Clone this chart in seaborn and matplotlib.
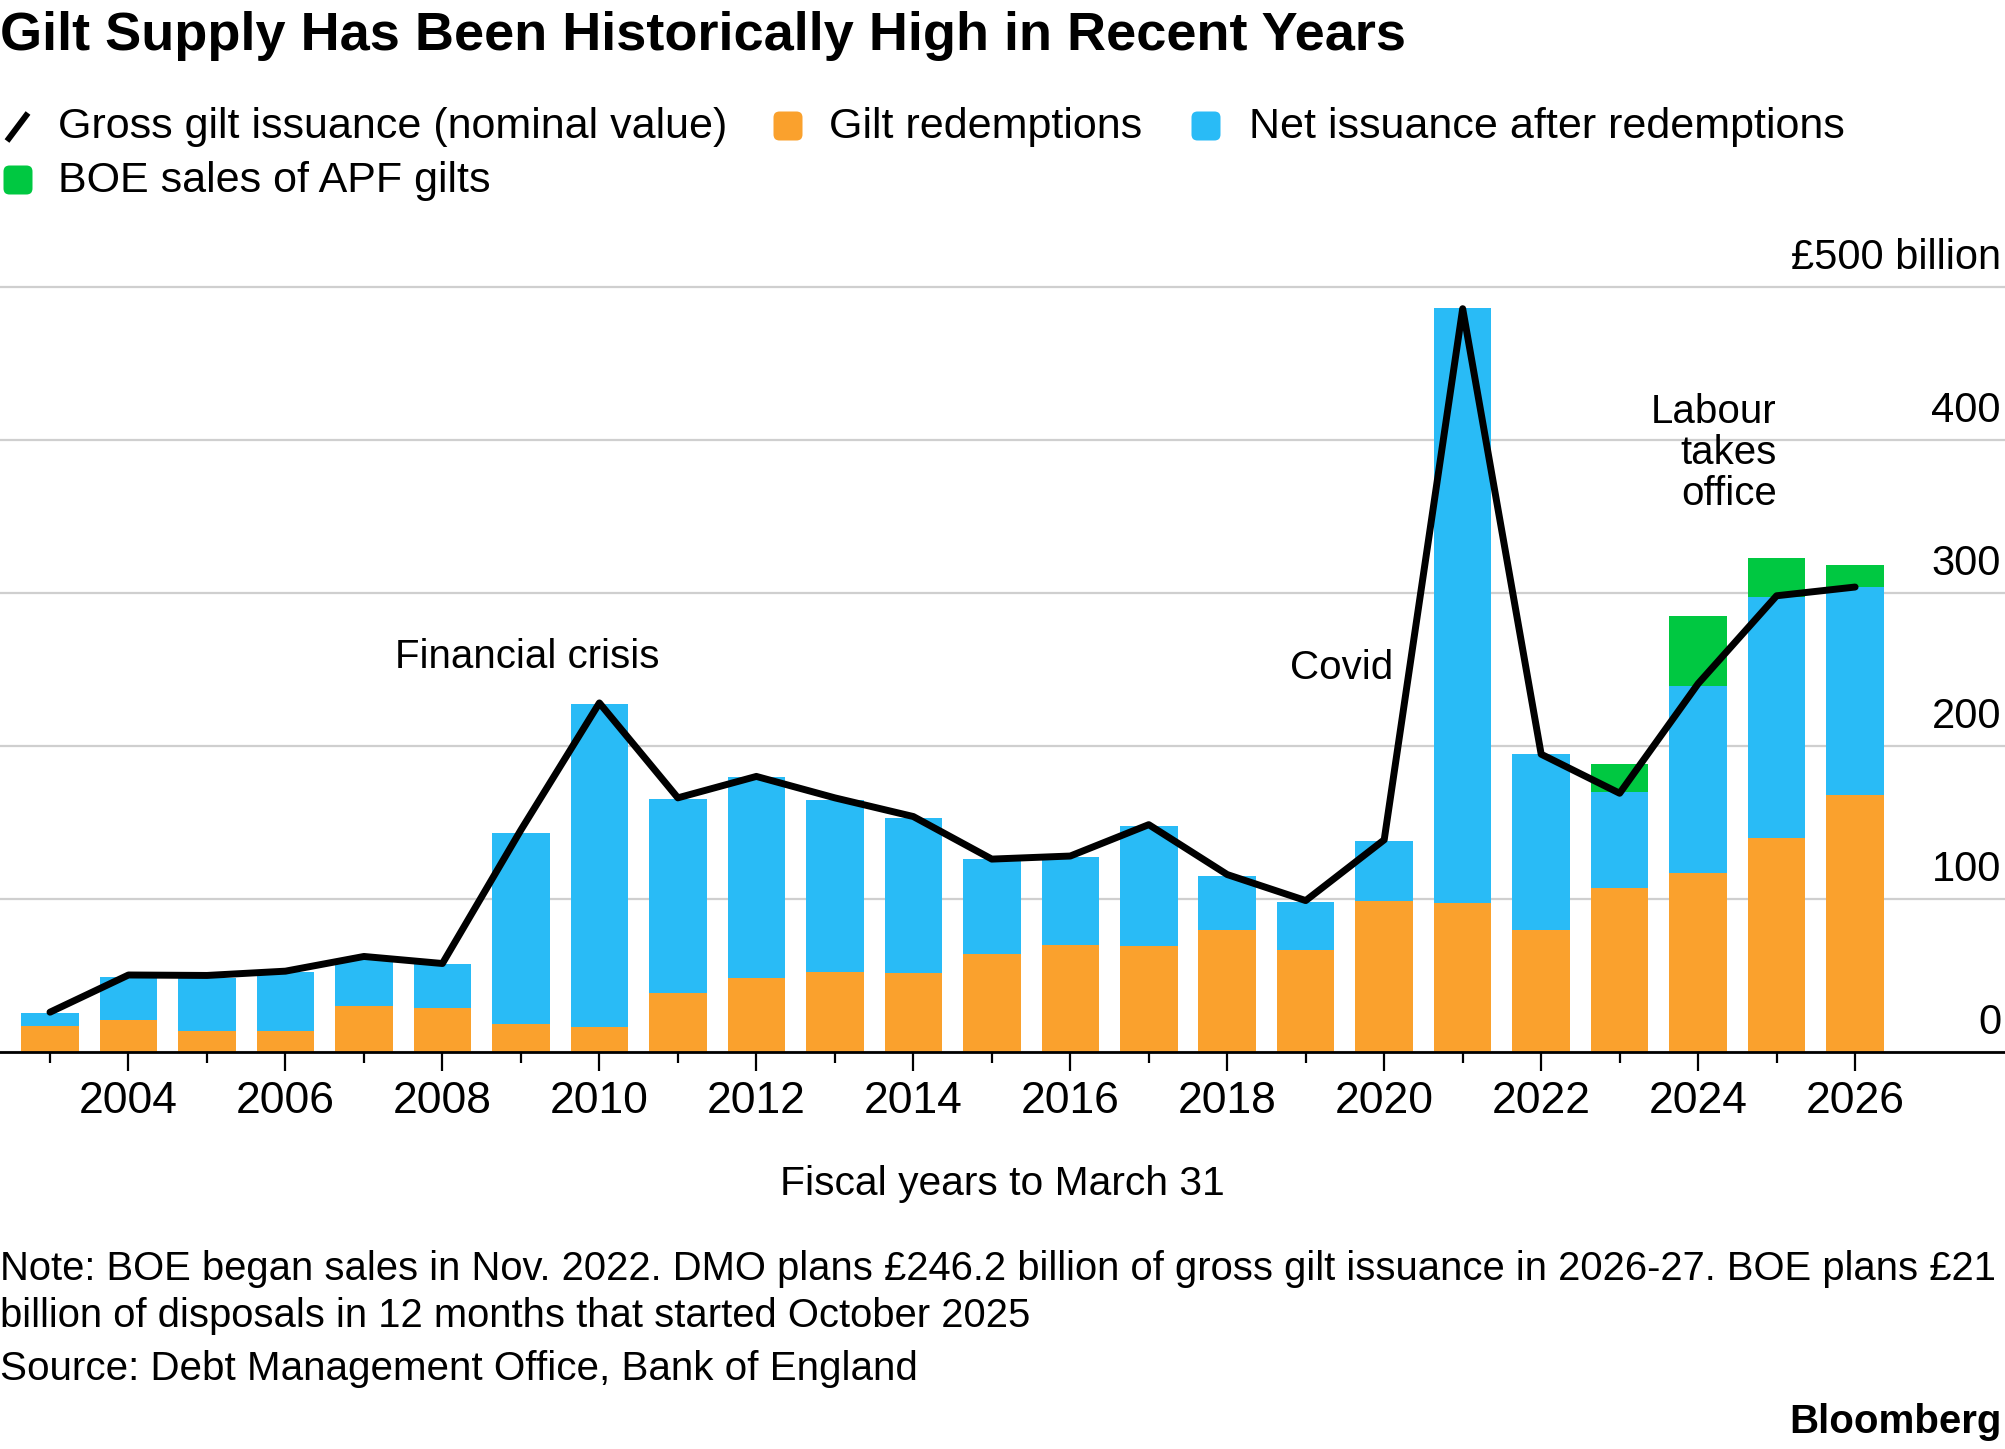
import numpy as np
import pandas as pd
import matplotlib
matplotlib.use("Agg")
import matplotlib.pyplot as plt
import seaborn as sns
from matplotlib import transforms
from matplotlib.patches import FancyBboxPatch
from matplotlib.lines import Line2D

# ---------------- data ----------------
years = list(range(2003, 2027))
redemptions = [16.7, 20.9, 13.8, 13.8, 29.8, 29.0, 18.0, 16.3, 38.3, 48.5, 52.4, 51.4,
               64.0, 70.2, 69.5, 79.4, 66.6, 98.9, 97.4, 79.4, 107.0, 116.6, 139.6, 168.0]
net_issuance = [8.8, 28.4, 34.4, 38.2, 30.2, 28.8, 125.0, 210.7, 127.2, 130.8, 112.0, 101.6,
                62.0, 57.0, 77.9, 35.4, 31.6, 38.9, 388.4, 115.1, 62.7, 122.2, 157.7, 135.7]
apf_sales = [0, 0, 0, 0, 0, 0, 0, 0, 0, 0, 0, 0,
             0, 0, 0, 0, 0, 0, 0, 0, 18.5, 46.1, 25.5, 14.2]
gross_issuance = [26.0, 50.3, 50.0, 52.8, 62.4, 57.8, 145.0, 228.0, 166.0, 180.0, 166.0, 153.8,
                  126.0, 128.0, 148.5, 115.9, 98.9, 138.6, 485.5, 194.5, 169.0, 240.6, 298.0, 303.7]
y_ticks = [0, 100, 200, 300, 400, 500]
y_tick_labels = ["0", "100", "200", "300", "400", "£500 billion"]
x_major = list(range(2004, 2027, 2))
x_minor = list(range(2003, 2026, 2))
x_major_labels = [str(y) for y in x_major]

title = "Gilt Supply Has Been Historically High in Recent Years"
legend_labels = ["Gross gilt issuance (nominal value)", "Gilt redemptions",
                 "Net issuance after redemptions", "BOE sales of APF gilts"]
note1 = ("Note: BOE began sales in Nov. 2022. DMO plans £246.2 billion of gross gilt "
         "issuance in 2026-27. BOE plans £21")
note2 = "billion of disposals in 12 months that started October 2025"
source = "Source: Debt Management Office, Bank of England"

ORANGE = "#FAA12D"
BLUE = "#29BBF6"
GREEN = "#00C841"

# ---------------- style ----------------
sns.set_theme(style="white")
plt.rcParams["font.family"] = ["Liberation Sans", "DejaVu Sans"]
plt.rcParams["text.color"] = "black"

W, H = 2005, 1449
fig = plt.figure(figsize=(W / 100, H / 100), dpi=100)
fig.patch.set_facecolor("white")


def fx(px):
    return px / W


def fy(py):
    return 1 - py / H


y_top = 503
base_px, top_px = 1052, 286.5
ax_h = (base_px - top_px) * y_top / 500 / H
ax = fig.add_axes([0, fy(base_px), 1, ax_h])

df = pd.DataFrame({"year": years, "redemptions": redemptions, "net": net_issuance,
                   "apf": apf_sales, "gross": gross_issuance})
df["top_net"] = df["redemptions"] + df["net"]
df["top_apf"] = df["top_net"] + df["apf"]

for col, color in [("top_apf", GREEN), ("top_net", BLUE), ("redemptions", ORANGE)]:
    sns.barplot(data=df, x="year", y=col, native_scale=True, color=color, saturation=1,
                width=0.733, errorbar=None, linewidth=0, ax=ax, zorder=2)

sns.lineplot(data=df, x="year", y="gross", color="black", linewidth=5.0, ax=ax, zorder=5,
             solid_capstyle="round", solid_joinstyle="round")

ax.set_xlim(2002.363, 2027.91)
ax.set_ylim(0, y_top)
for s in ["top", "left", "right"]:
    ax.spines[s].set_visible(False)
ax.spines["bottom"].set_color("black")
ax.spines["bottom"].set_linewidth(2.0)
ax.spines["bottom"].set_zorder(6)

ax.set_yticks(y_ticks)
ax.tick_params(axis="y", length=0, labelleft=False, labelright=False)
ax.grid(axis="y", color="#CFCFCF", linewidth=1.6)
ax.grid(axis="x", visible=False)
ax.set_axisbelow(True)

ax.set_xticks(x_major)
ax.set_xticklabels(x_major_labels)
ax.set_xticks(x_minor, minor=True)
ax.tick_params(axis="x", which="major", bottom=True, length=14, width=1.6, color="black",
               pad=7, labelsize=32, labelcolor="black", direction="out")
ax.tick_params(axis="x", which="minor", bottom=True, length=8, width=1.6, color="black",
               direction="out")
ax.set_xlabel("")
ax.set_ylabel("")

# right-side value labels sitting above gridlines
trans = transforms.blended_transform_factory(ax.transAxes, ax.transData)
off = transforms.offset_copy(trans, fig=fig, x=0, y=18, units="dots")
for v, lab in zip(y_ticks, y_tick_labels):
    ax.text(2001 / W, v, lab, transform=off, ha="right", va="baseline", fontsize=30)

# annotations
ax.text(2009.08, 258, "Financial crisis", ha="center", va="center", fontsize=29)
ax.text(2020.12, 251, "Covid", ha="right", va="center", fontsize=29)
ax.text(2025.0, 391, "Labour\ntakes\noffice", ha="right", va="center",
        multialignment="right", fontsize=29, linespacing=1.1)

# title
fig.text(fx(0), fy(36), title, fontsize=39, fontweight="bold", ha="left", va="center")

# legend (manual)
row1, row2 = 127, 181
fig.add_artist(Line2D([fx(7), fx(28)], [fy(141), fy(113)], transform=fig.transFigure,
                      color="black", linewidth=4.3, solid_capstyle="butt"))


def square(cx, cy, color, size=29):
    p = FancyBboxPatch(((cx - size / 2) / 100, (H - cy - size / 2) / 100), size / 100, size / 100,
                       boxstyle="round,pad=0,rounding_size=0.06",
                       transform=fig.dpi_scale_trans, fc=color, ec="none")
    fig.add_artist(p)


square(788, row1 - 1, ORANGE)
square(1206, row1 - 1, BLUE)
square(18, row2 - 1, GREEN)
fig.text(fx(58), fy(row1), legend_labels[0], va="center", ha="left", fontsize=31)
fig.text(fx(829), fy(row1), legend_labels[1], va="center", ha="left", fontsize=31)
fig.text(fx(1249), fy(row1), legend_labels[2], va="center", ha="left", fontsize=31)
fig.text(fx(58), fy(row2), legend_labels[3], va="center", ha="left", fontsize=31)

# axis title and footer
fig.text(0.5, fy(1184), "Fiscal years to March 31", ha="center", va="center", fontsize=29.3)
fig.text(fx(0), fy(1268.5), note1, ha="left", va="center", fontsize=28.8)
fig.text(fx(0), fy(1316), note2, ha="left", va="center", fontsize=28.8)
fig.text(fx(0), fy(1369.5), source, ha="left", va="center", fontsize=29.1)
fig.text(fx(2002), fy(1422), "Bloomberg", ha="right", va="center", fontsize=29,
         fontweight="bold")

fig.savefig("out.png", dpi=100, facecolor="white")
